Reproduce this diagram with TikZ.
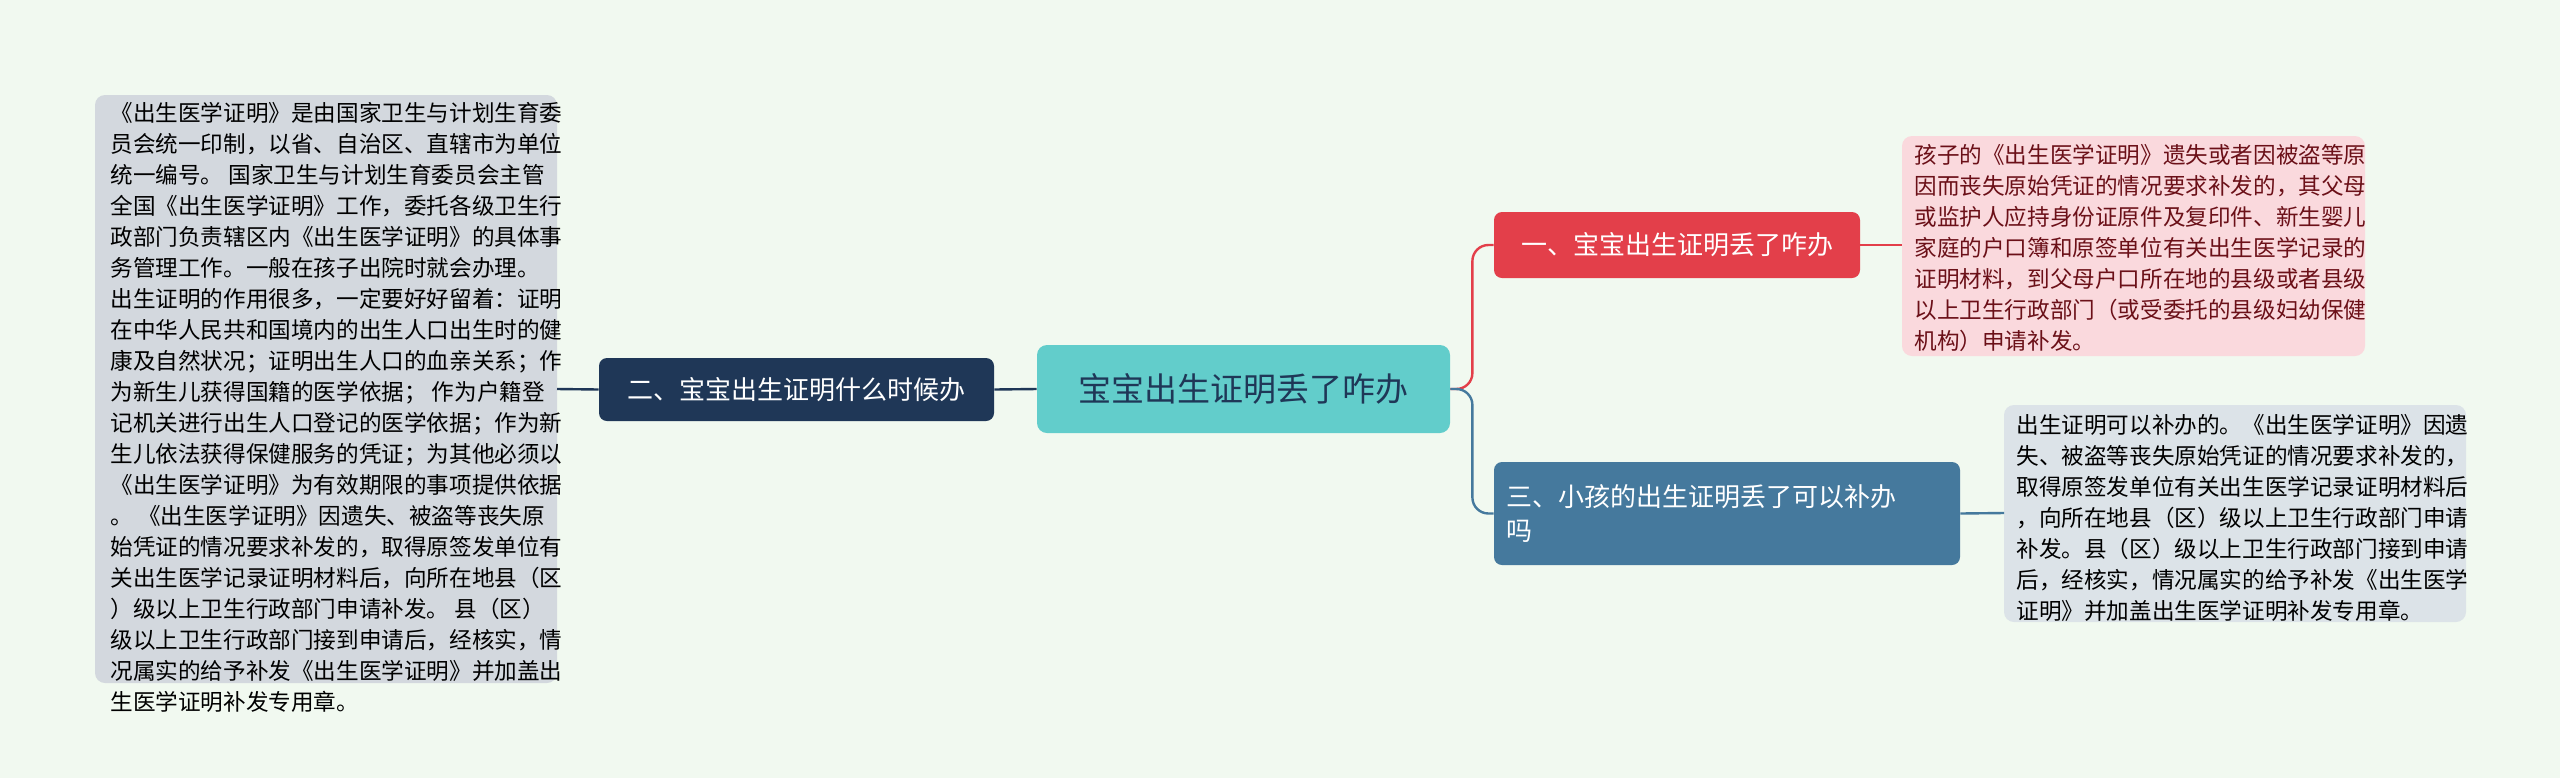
\documentclass[tikz,border=0pt]{standalone}
\usepackage{fontspec}
\setmainfont{Noto Sans CJK SC}
\definecolor{bg}{HTML}{F1F9F0}
\definecolor{cteal}{HTML}{62CDCB}
\definecolor{cnavy}{HTML}{1F3757}
\definecolor{cred}{HTML}{E33F4A}
\definecolor{csteel}{HTML}{45799D}
\definecolor{cpink}{HTML}{FAD9DD}
\definecolor{cgray}{HTML}{D3D8DE}
\definecolor{cbluegray}{HTML}{DCE3E8}
\definecolor{tred}{HTML}{6B1018}
\begin{document}
\begin{tikzpicture}[x=0.5pt,y=-0.5pt,
  detail/.style={rounded corners=5pt,inner sep=0pt,font=\fontsize{11.3}{15.5}\selectfont,align=left,anchor=north west},
  branch/.style={rounded corners=4pt,text=white,font=\fontsize{13}{17}\selectfont,align=left,inner xsep=6pt},
  conn/.style={line width=1.2pt}]
\fill[bg] (0,0) rectangle (2560,778);
\useasboundingbox (0,0) rectangle (2560,778);
% detail boxes
\fill[cgray,rounded corners=5pt] (95,95) rectangle (557,683);
\node[detail] (L) at (110,102) {《出生医学证明》是由国家卫生与计划生育委\\员会统一印制，以省、自治区、直辖市为单位\\统一编号。 国家卫生与计划生育委员会主管\\全国《出生医学证明》工作，委托各级卫生行\\政部门负责辖区内《出生医学证明》的具体事\\务管理工作。一般在孩子出院时就会办理。\\出生证明的作用很多，一定要好好留着：证明\\在中华人民共和国境内的出生人口出生时的健\\康及自然状况；证明出生人口的血亲关系；作\\为新生儿获得国籍的医学依据； 作为户籍登\\记机关进行出生人口登记的医学依据；作为新\\生儿依法获得保健服务的凭证；为其他必须以\\《出生医学证明》为有效期限的事项提供依据\\。 《出生医学证明》因遗失、被盗等丧失原\\始凭证的情况要求补发的，取得原签发单位有\\关出生医学记录证明材料后，向所在地县（区\\）级以上卫生行政部门申请补发。 县（区）\\级以上卫生行政部门接到申请后，经核实，情\\况属实的给予补发《出生医学证明》并加盖出\\生医学证明补发专用章。};
\coordinate (Le) at (557,389);
\fill[cpink,rounded corners=5pt] (1902,136) rectangle (2365,356);
\node[detail,text=tred] (R1) at (1914,144) {孩子的《出生医学证明》遗失或者因被盗等原\\因而丧失原始凭证的情况要求补发的，其父母\\或监护人应持身份证原件及复印件、新生婴儿\\家庭的户口簿和原签单位有关出生医学记录的\\证明材料，到父母户口所在地的县级或者县级\\以上卫生行政部门（或受委托的县级妇幼保健\\机构）申请补发。};
\coordinate (R1w) at (1902,245);
\fill[cbluegray,rounded corners=5pt] (2004,405) rectangle (2466,622);
\node[detail] (R3) at (2016,414) {出生证明可以补办的。《出生医学证明》因遗\\失、被盗等丧失原始凭证的情况要求补发的，\\取得原签发单位有关出生医学记录证明材料后\\，向所在地县（区）级以上卫生行政部门申请\\补发。县（区）级以上卫生行政部门接到申请\\后，经核实，情况属实的给予补发《出生医学\\证明》并加盖出生医学证明补发专用章。};
\coordinate (R3w) at (2004,513);
% main nodes
\node[fill=cteal,rounded corners=5pt,minimum width=206.5pt,minimum height=44pt,font=\fontsize{16.5}{20}\selectfont,text=cnavy] (C) at (1243.5,389) {宝宝出生证明丢了咋办};
\node[branch,fill=cnavy,minimum width=197.5pt,minimum height=31.5pt] (B2) at (796.5,389.5) {二、宝宝出生证明什么时候办};
\node[branch,fill=cred,minimum width=183pt,minimum height=33pt] (B1) at (1677,245) {一、宝宝出生证明丢了咋办};
\node[branch,fill=csteel,minimum width=233pt,minimum height=51.5pt,text width=221pt] (B3) at (1727,513.5) {三、小孩的出生证明丢了可以补办\\吗};
% connectors
\draw[conn,cnavy] (C.west) -- (B2.east);
\draw[conn,cnavy] (B2.west) -- (Le);
\draw[conn,cred,rounded corners=8pt] (C.east) -- ++(22,0) |- (B1.west);
\draw[conn,csteel,rounded corners=8pt] (C.east) -- ++(22,0) |- (B3.west);
\draw[conn,cred] (B1.east) -- (R1w);
\draw[conn,csteel] (B3.east) -- (R3w);
\end{tikzpicture}
\end{document}
